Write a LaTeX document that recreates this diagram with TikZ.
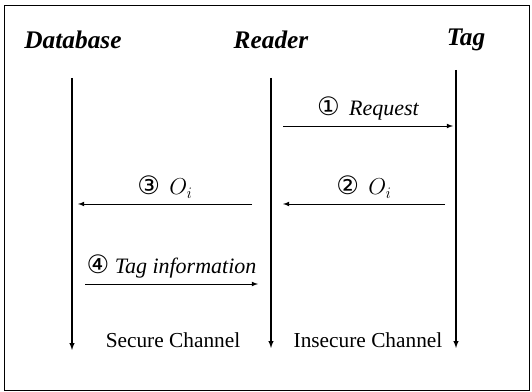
\documentclass[tikz,border=0pt]{standalone}
\usepackage{fontspec}
\setmainfont{Liberation Serif}
\newfontfamily\circfont{DejaVu Sans}
\usepackage{tikz}
\usetikzlibrary{arrows,calc,positioning}

\tikzset{
  party/.style={font=\fontsize{19}{22}\selectfont\bfseries\itshape, inner sep=0pt},
  msg/.style={font=\fontsize{16.5}{19}\selectfont\itshape, inner sep=1pt},
  chan/.style={font=\fontsize{16}{19}\selectfont, inner sep=0pt},
  lifeline/.style={->, >=latex, thick},
  message/.style={->, >=latex, semithick}
}
\newcommand{\circnum}[1]{{\circfont\fontsize{19}{20}\selectfont #1}}

\begin{document}
\begin{tikzpicture}[x=0.75pt, y=0.75pt]
%\draw[step=10, very thin, red] (0,0) grid (532,392);
\useasboundingbox (0,0) rectangle (532,392);
\draw[semithick] (4,2) rectangle (529,387);

\node[party] (database) at (73,352) {Database};
\node[party] (reader) at (271,352) {Reader};
\node[party] (tag) at (466,352) {Tag};

% lifelines
\draw[lifeline] ($ (database) + (-1,-38) $) -- ($ (database) + (-1,-310) $);
\draw[lifeline] ($ (reader) + (0,-38) $) -- ($ (reader) + (0,-308) $);
\draw[lifeline] ($ (tag) + (-10,-30) $) -- ($ (tag) + (-10,-308) $);

% messages
\draw[message] ($ (reader) + (12,-86) $) -- node[msg, above=3pt] (request) {\circnum{①} \,Request} ($ (tag) + (-13,-86) $);
\draw[message] ($ (tag) + (-21,-164) $) -- node[msg, above=3pt] (oitag) {\circnum{②} \,$O_i$} ($ (reader) + (12,-164) $);
\draw[message] ($ (reader) + (-19,-164) $) -- node[msg, above=3pt] (oireader) {\circnum{③} \,$O_i$} ($ (database) + (5,-164) $);
\draw[message] ($ (database) + (12,-244) $) -- node[msg, above=3pt] (taginfo) {\circnum{④} Tag information} ($ (reader) + (-13,-244) $);

\node[chan] (secure) at (173,52) {Secure Channel};
\node[chan] (insecure) at (368,52) {Insecure Channel};
\end{tikzpicture}
\end{document}
